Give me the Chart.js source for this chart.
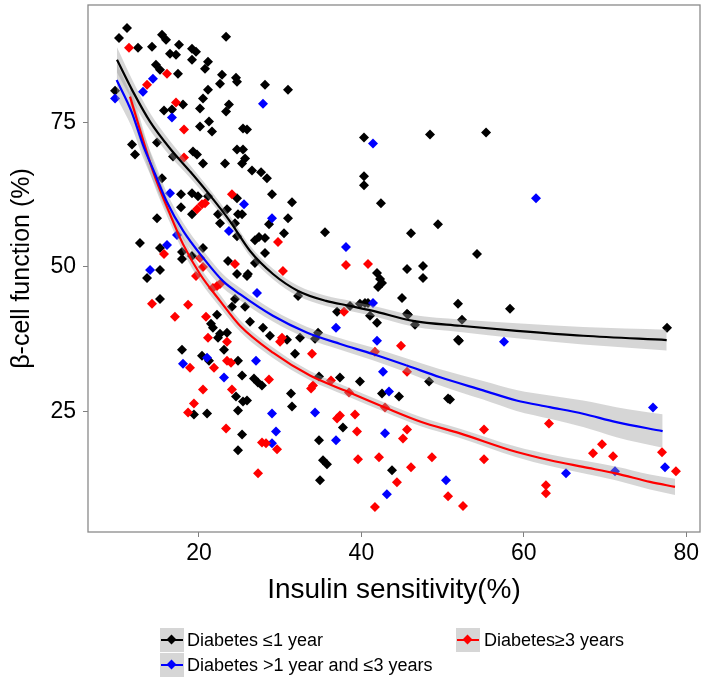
<!DOCTYPE html>
<html><head><meta charset="utf-8">
<script src="https://cdn.jsdelivr.net/npm/chart.js@4"></script>
<style>
html,body{margin:0;padding:0;background:#fff;}
#wrap{position:relative;width:709px;height:682px;overflow:hidden;font-family:"Liberation Sans",Arial,sans-serif;}
#c{position:absolute;left:0;top:0;}
.key{position:absolute;width:24px;height:24px;background:#d6d6d6;}
.key .ln{position:absolute;left:1px;right:1px;top:11px;height:2px;}
.key .pt{position:absolute;left:8px;top:8px;width:7px;height:7px;transform:rotate(45deg);}
.lab{position:absolute;font-size:18px;color:#000;white-space:nowrap;line-height:20px;}
</style></head>
<body>
<div id="wrap">
<canvas id="c" width="709" height="682"></canvas>
<div class="key" style="left:160px;top:628px"><div class="ln" style="background:#000"></div><div class="pt" style="background:#000"></div></div>
<div class="lab" style="left:187px;top:630px">Diabetes ≤1 year</div>
<div class="key" style="left:456px;top:628px"><div class="ln" style="background:#f00"></div><div class="pt" style="background:#f00"></div></div>
<div class="lab" style="left:484px;top:630px">Diabetes≥3 years</div>
<div class="key" style="left:160px;top:653px"><div class="ln" style="background:#00f"></div><div class="pt" style="background:#00f"></div></div>
<div class="lab" style="left:187px;top:655px">Diabetes &gt;1 year and ≤3 years</div>
</div>
<script>
const xTicks = [20, 40, 60, 80];
const yTicks = [25, 50, 75];
const groupNames = ["Diabetes ≤1 year", "Diabetes >1 year and ≤3 years", "Diabetes ≥3 years"];

const blackX = [11.13,10.15,15.44,15.94,17.54,14.21,23.33,12.49,19.14,16.43,17.17,19.63,19.14,21.11,20.74,17.41,14.7,15.2,22.83,22.59,24.56,24.68,21.11,20.49,20.12,18.03,15.69,16.67,20.12,21.23,23.33,23.69,25.42,25.91,21.6,11.75,12.12,14.83,16.8,19.26,19.75,20.49,23.2,24.68,25.42,25.67,15.44,9.66,28.13,30.96,25.3,26.53,27.64,28.37,28.99,31.45,25.3,30.96,28.62,30.47,27.39,28.13,26.89,28.13,35.52,40.32,40.32,40.32,42.41,48.45,46.11,49.43,
17.78,19.14,19.88,21.11,17.78,19.14,24.68,23.45,24.8,22.34,22.59,24.43,24.68,14.83,12.73,15.2,17.91,17.91,19.14,20.49,23.57,24.68,25.91,15.2,13.6,15.2,24.43,25.67,24.06,22.22,21.48,21.72,22.59,23.45,22.34,
17.91,20.37,21.23,23.08,24.8,25.3,24.56,25.42,25.91,24.8,19.38,20.99,25.3,24.8,
45.62,47.59,47.59,26.03,26.89,41.92,42.3,42.54,42.05,32.2,37.0,38.6,39.82,40.44,40.81,41.06,41.92,45.0,45.62,45.74,46.6,51.9,26.28,27.88,28.74,30.84,32.44,34.66,34.29,31.82,48.33,51.9,26.77,27.26,27.75,34.78,37.36,39.82,42.54,44.63,50.67,31.33,31.45,37.73,34.78,35.27,35.76,43.77,34.9,
54.24,58.3,52.39,52.02,77.64,50.91,55.35];
const blackY = [91.33,89.6,90.12,89.26,88.4,88.05,89.78,87.88,87.71,86.84,86.67,87.19,85.81,85.47,84.26,83.4,84.95,84.09,83.22,81.67,82.71,82.02,80.64,79.09,77.36,78.05,77.02,77.19,74.26,75.12,76.84,78.05,73.91,73.74,73.4,71.16,69.43,71.5,69.09,69.95,69.43,67.88,67.88,70.29,70.29,68.74,65.29,80.47,81.5,80.64,67.88,66.67,66.33,65.29,62.53,61.16,59.09,58.4,57.36,55.81,55.12,54.95,54.6,52.36,55.98,72.36,65.64,64.09,60.98,72.88,55.81,57.36,
62.53,62.71,62.19,62.19,60.29,59.09,61.84,59.95,59.09,59.09,57.53,57.53,55.29,58.4,54.09,53.22,52.53,51.33,51.84,53.22,50.98,48.74,48.4,49.43,48.05,44.43,44.43,43.05,43.05,41.67,40.12,39.43,38.4,38.57,37.71,
35.64,34.6,33.74,35.64,33.74,31.16,27.53,26.67,26.84,25.12,24.43,24.6,20.98,18.22,
49.6,50.12,48.05,48.74,50.64,48.91,47.88,47.19,46.5,44.95,42.19,43.22,43.57,43.74,43.74,41.5,40.29,44.6,41.84,41.67,39.95,43.57,40.47,39.43,38.05,37.36,37.71,38.57,37.53,34.95,30.12,37.36,30.64,29.95,29.43,30.98,30.81,30.12,28.05,27.53,27.19,28.05,25.81,22.19,19.95,16.5,15.81,14.78,13.05,
52.19,42.71,40.81,37.19,39.43,27.02,73.22];

const blueX = [14.33,13.1,9.66,16.67,27.88,25.54,28.99,38.1,41.43,16.43,23.69,17.29,16.06,13.97,18.03,20.99,23.08,27.14,41.43,36.87,41.92,27.02,42.66,43.4,28.99,34.29,29.48,42.91,28.99,36.87,50.42,43.14,57.56,75.91,77.39,65.2,71.23,61.5];
const blueY = [82.53,80.29,79.09,75.81,78.22,60.81,58.4,53.4,71.33,62.71,56.16,55.47,53.74,49.43,33.22,34.26,30.81,45.47,43.74,39.43,37.19,33.74,31.84,28.4,24.6,24.78,21.5,21.16,19.43,19.95,13.05,10.64,37.02,25.64,15.29,14.26,14.6,61.84];

const redX = [11.38,16.06,13.6,17.17,18.15,18.15,29.73,19.75,20.37,20.74,24.06,15.69,20.12,20.49,19.63,24.43,22.22,22.59,21.72,14.21,18.65,17.04,20.86,21.11,23.45,23.45,23.94,18.89,21.85,20.49,24.06,19.38,18.65,23.33,38.1,40.81,30.34,37.86,29.98,30.22,33.92,41.67,44.88,45.62,28.62,36.26,34.04,33.8,38.47,37.36,37.0,39.21,42.91,39.46,45.62,45.12,27.76,28.25,29.61,48.69,42.17,39.58,46.11,27.27,44.38,50.67,41.67,52.51,63.1,55.1,55.1,69.63,68.52,70.99,77.02,78.74,62.73,62.73];
const redY = [87.88,83.4,81.5,78.4,73.74,68.91,54.26,59.95,60.81,60.98,62.53,52.19,51.5,49.95,48.4,50.47,46.67,47.02,46.33,43.57,43.4,41.33,41.33,37.71,37.02,33.74,33.4,32.53,32.53,28.74,28.74,26.33,24.78,22.02,50.29,50.47,49.26,42.19,37.02,37.71,34.95,35.29,36.33,31.84,30.47,30.29,29.43,28.91,28.22,24.26,23.74,24.43,25.64,21.5,21.84,20.29,19.6,19.43,18.4,17.02,17.02,16.67,15.29,14.26,12.71,10.29,8.4,8.57,22.88,21.84,16.67,19.26,17.71,17.19,17.88,14.6,12.19,10.81];

// loess fits and their standard-error half widths
const blackFitX = [9.9,11.87,13.97,16.43,18.89,20.95,23.8,26.29,29.11,32.2,35.64,38.6,41.43,46.35,52.14,59.13,67.3,77.6];
const blackFitY = [85.8,80.3,75.1,70.46,66.5,63.05,57.9,52.71,48.74,45.81,44.09,43.22,42.36,40.64,39.78,38.91,38.05,37.31];
const blackFitSE = [2.2,1.8,1.5,1.3,1.1,1.0,0.9,0.9,0.9,0.9,0.9,0.9,0.9,1.0,1.1,1.3,1.5,1.8];

const blueFitX = [9.86,11.7,13.1,14.6,16.0,18.07,20.5,22.96,25.05,29.1,33.26,37.4,41.4,45.6,49.7,55.0,59.1,63.2,67.3,71.4,77.1];
const blueFitY = [82.3,76.8,71.1,66.0,61.33,56.15,51.55,47.5,45.24,41.5,38.62,36.62,34.9,32.9,30.86,28.6,26.85,25.7,24.55,23.1,21.55];
const blueFitSE = [3.0,2.6,2.2,1.9,1.6,1.4,1.3,1.2,1.1,1.0,1.0,1.0,1.1,1.2,1.4,1.6,1.8,2.0,2.3,2.6,2.9];

const redFitX = [11.5,14.34,16.43,18.03,20.12,22.59,25.05,29.11,33.67,37.98,42.9,47.22,52.14,59.13,63.23,67.3,71.44,75.54,78.62];
const redFitY = [79.43,66.5,59.09,53.91,48.74,44.09,39.78,35.12,31.16,28.57,25.64,23.22,21.16,17.93,16.5,15.35,14.2,12.76,11.9];
const redFitSE = [2.2,1.8,1.5,1.3,1.2,1.1,1.0,0.9,0.8,0.8,0.8,0.8,0.8,0.9,1.0,1.1,1.2,1.3,1.4];

const pts = (xs, ys) => xs.map((x, i) => ({x, y: ys[i]}));
const bandPts = (xs, ys, se, s) => xs.map((x, i) => ({x, y: ys[i] + s * se[i]}));

const groups = [
  {name: groupNames[0], color: '#000000', x: blackX, y: blackY, fx: blackFitX, fy: blackFitY, se: blackFitSE, pOrder: 6},
  {name: groupNames[1], color: '#0000ff', x: blueX, y: blueY, fx: blueFitX, fy: blueFitY, se: blueFitSE, pOrder: 5},
  {name: groupNames[2], color: '#ff0000', x: redX, y: redY, fx: redFitX, fy: redFitY, se: redFitSE, pOrder: 4}
];

const datasets = [];
groups.forEach(g => {
  datasets.push({type: 'scatter', label: g.name, data: pts(g.x, g.y), pointStyle: 'rectRot', pointRadius: 5,
    backgroundColor: g.color, borderColor: g.color, borderWidth: 0, order: g.pOrder});
});
groups.forEach(g => {
  datasets.push({type: 'line', label: g.name + ' upper', data: bandPts(g.fx, g.fy, g.se, 1), borderColor: 'rgba(0,0,0,0)',
    pointRadius: 0, tension: 0.4, cubicInterpolationMode: 'monotone', fill: '+1', backgroundColor: 'rgba(153,153,153,0.4)', order: 2});
  datasets.push({type: 'line', label: g.name + ' lower', data: bandPts(g.fx, g.fy, g.se, -1), borderColor: 'rgba(0,0,0,0)',
    pointRadius: 0, tension: 0.4, cubicInterpolationMode: 'monotone', fill: false, order: 2});
});
groups.forEach(g => {
  datasets.push({type: 'line', label: g.name + ' fit', data: pts(g.fx, g.fy), borderColor: g.color, borderWidth: 2.2,
    pointRadius: 0, tension: 0.4, cubicInterpolationMode: 'monotone', fill: false, order: 0});
});

const panelBorder = {
  id: 'panelBorder',
  afterDraw(chart) {
    const {ctx, chartArea: a} = chart;
    ctx.save();
    ctx.strokeStyle = '#8a8a8a';
    ctx.lineWidth = 1.3;
    ctx.strokeRect(a.left, a.top, a.right - a.left, a.bottom - a.top);
    ctx.restore();
  }
};

const tickFont = {family: '"Liberation Sans", Arial, sans-serif', size: 23};
new Chart(document.getElementById('c'), {
  data: {datasets},
  options: {
    responsive: false, animation: false, devicePixelRatio: 1,
    layout: {padding: {top: 3, right: 9, left: 0, bottom: 78}},
    plugins: {legend: {display: false}, tooltip: {enabled: false}},
    scales: {
      x: {
        type: 'linear', min: 6.33, max: 81.7,
        afterBuildTicks: s => { s.ticks = xTicks.map(v => ({value: v})); },
        afterFit: s => { s.height = 72; s.paddingLeft = 0; s.paddingRight = 0; },
        ticks: {font: tickFont, color: '#000', padding: 3, maxRotation: 0},
        grid: {drawOnChartArea: false, drawTicks: true, tickLength: 5, color: '#7f7f7f'},
        border: {display: false},
        title: {display: true, text: 'Insulin sensitivity(%)', color: '#000',
          font: {family: '"Liberation Sans", Arial, sans-serif', size: 28, lineHeight: 1}, padding: {top: 0, bottom: 0}}
      },
      y: {
        type: 'linear', min: 4.09, max: 95.29,
        afterBuildTicks: s => { s.ticks = yTicks.map(v => ({value: v})); },
        afterFit: s => { s.width = 88; s.paddingTop = 0; s.paddingBottom = 0; },
        ticks: {font: tickFont, color: '#000', padding: 7},
        grid: {drawOnChartArea: false, drawTicks: true, tickLength: 5, color: '#7f7f7f'},
        border: {display: false},
        title: {display: true, text: 'β-cell function (%)', color: '#000',
          font: {family: '"Liberation Sans", Arial, sans-serif', size: 25, lineHeight: 1}, padding: {top: 10, bottom: 0}}
      }
    }
  },
  plugins: [panelBorder]
});
</script>
</body></html>
